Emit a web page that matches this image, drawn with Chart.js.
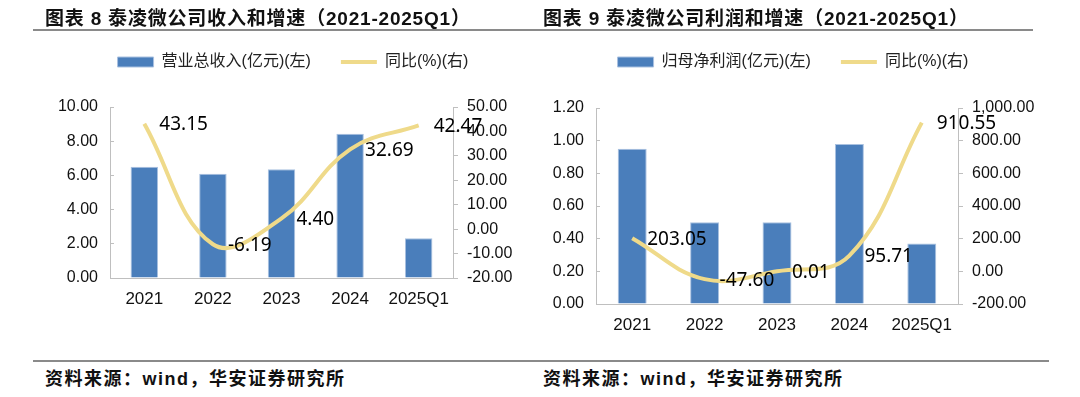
<!DOCTYPE html>
<html>
<head>
<meta charset="utf-8">
<script src="https://cdn.jsdelivr.net/npm/chart.js@4.4.0/dist/chart.umd.min.js"></script>
<style>
body{margin:0;background:#fff;width:1080px;height:397px;position:relative;overflow:hidden;font-family:"Liberation Sans","Noto Sans CJK SC",sans-serif;}
.title{position:absolute;top:3px;font-size:19px;letter-spacing:0.8px;font-weight:bold;color:#111;white-space:nowrap;z-index:2;}
.rule{position:absolute;height:0;border-top:2px solid #8a8a8a;}
.src{position:absolute;top:364px;font-size:18px;letter-spacing:1.5px;font-weight:bold;color:#111;white-space:nowrap;}
canvas{position:absolute;top:24px;}
</style>
</head>
<body>
<div class="title" style="left:45px">图表 8 泰凌微公司收入和增速（2021-2025Q1）</div>
<div class="title" style="left:543px">图表 9 泰凌微公司利润和增速（2021-2025Q1）</div>
<div class="rule" style="left:33px;top:29px;width:1000px"></div>
<canvas id="c1" width="540" height="336" style="left:0"></canvas>
<canvas id="c2" width="540" height="336" style="left:540px"></canvas>
<div class="rule" style="left:33px;top:360px;width:1016px"></div>
<div class="src" style="left:45px">资料来源：wind，华安证券研究所</div>
<div class="src" style="left:543px">资料来源：wind，华安证券研究所</div>
<script>
// ---- data ----
const years = ['2021', '2022', '2023', '2024', '2025Q1'];
const revenue = [6.50, 6.10, 6.36, 8.44, 2.32];
const revenueYoy = [43.15, -6.19, 4.40, 32.69, 42.47];
const profit = [0.95, 0.50, 0.50, 0.98, 0.37];
const profitYoy = [203.05, -47.60, 0.01, 95.71, 910.55];

const revTicks = {min: 0, max: 10, step: 2};
const revYoyTicks = {min: -20, max: 50, step: 10};
const profTicks = {min: 0, max: 1.2, step: 0.2};
const profYoyTicks = {min: -200, max: 1000, step: 200};

const BLUE = '#4A7EBB';
const YELLOW = '#EFDA8A';
const AXIS = '#BFBFBF';
const tickFont = {family: '"Liberation Sans", Arial, sans-serif', size: 16};
const catFont = {family: '"Liberation Sans", Arial, sans-serif', size: 17};

// labels next to each point of the line
const valueLabels = {
    id: 'valueLabels',
    afterDatasetsDraw(chart) {
        const meta = chart.getDatasetMeta(1);
        const vals = chart.data.datasets[1].data;
        const ctx = chart.ctx;
        ctx.save();
        ctx.font = '19px "Noto Sans", sans-serif';
        ctx.fillStyle = '#000';
        ctx.textAlign = 'left';
        ctx.textBaseline = 'middle';
        meta.data.forEach((pt, i) => {
            ctx.fillText(vals[i].toFixed(2), pt.x + 15, pt.y + 1);
        });
        ctx.restore();
    }
};

const fmt2 = v => Number(v).toLocaleString('en-US', {minimumFractionDigits: 2, maximumFractionDigits: 2});

function makeChart(id, o) {
    return new Chart(document.getElementById(id), {
        type: 'bar',
        data: {
            labels: years,
            datasets: [
                {
                    type: 'bar',
                    label: o.barLabel,
                    data: o.bars,
                    backgroundColor: BLUE,
                    borderColor: '#A9C1E0',
                    borderWidth: 1,
                    categoryPercentage: 0.4,
                    barPercentage: 1,
                    pointStyle: 'rect',
                    order: 2,
                    yAxisID: 'y'
                },
                {
                    type: 'line',
                    label: '同比(%)(右)',
                    data: o.line,
                    borderColor: YELLOW,
                    backgroundColor: YELLOW,
                    borderWidth: 4,
                    pointRadius: 0,
                    pointStyle: 'line',
                    tension: 0.4,
                    order: 1,
                    yAxisID: 'y1'
                }
            ]
        },
        options: {
            responsive: false,
            animation: false,
            devicePixelRatio: 1,
            layout: {padding: {left: o.padL, right: o.padR, top: 0, bottom: o.padB}},
            plugins: {
                legend: {
                    position: 'top',
                    labels: {
                        usePointStyle: true,
                        pointStyleWidth: 36,
                        boxHeight: 10,
                        padding: 30,
                        color: '#222',
                        font: {family: '"Liberation Sans", "Noto Sans CJK SC", sans-serif', size: 16},
                        sort: (a, b) => a.datasetIndex - b.datasetIndex
                    }
                },
                // empty title used as a gap between legend and plot
                title: {display: true, text: '', weight: 500, padding: {top: o.gap - 1, bottom: 0}, font: {size: 1, lineHeight: 1}},
                tooltip: {enabled: false}
            },
            scales: {
                x: {
                    grid: {display: false, drawTicks: false},
                    border: {color: AXIS},
                    ticks: {color: '#111', font: catFont, padding: 11},
                    afterFit: s => { s.height = 30; }
                },
                y: {
                    position: 'left',
                    min: o.left.min, max: o.left.max,
                    grid: {drawOnChartArea: false, tickLength: -4, color: AXIS},
                    border: {color: AXIS},
                    ticks: {stepSize: o.left.step, color: '#111', font: tickFont, padding: 16, callback: v => fmt2(v)},
                    afterFit: s => { s.width = o.leftW; }
                },
                y1: {
                    position: 'right',
                    min: o.right.min, max: o.right.max,
                    grid: {drawOnChartArea: false, tickLength: 5, color: AXIS},
                    border: {color: AXIS},
                    ticks: {stepSize: o.right.step, color: '#111', font: tickFont, padding: 9, callback: v => fmt2(v)},
                    afterFit: s => { s.width = o.rightW; }
                }
            }
        },
        plugins: [valueLabels]
    });
}

makeChart('c1', {
    barLabel: '营业总收入(亿元)(左)',
    bars: revenue, line: revenueYoy,
    left: revTicks, right: revYoyTicks,
    padL: 46, padR: 0, padB: 52, gap: 27, leftW: 64, rightW: 87
});
makeChart('c2', {
    barLabel: '归母净利润(亿元)(左)',
    bars: profit, line: profitYoy,
    left: profTicks, right: profYoyTicks,
    padL: 0, padR: 34, padB: 26, gap: 28, leftW: 56, rightW: 88
});
</script>
</body>
</html>
